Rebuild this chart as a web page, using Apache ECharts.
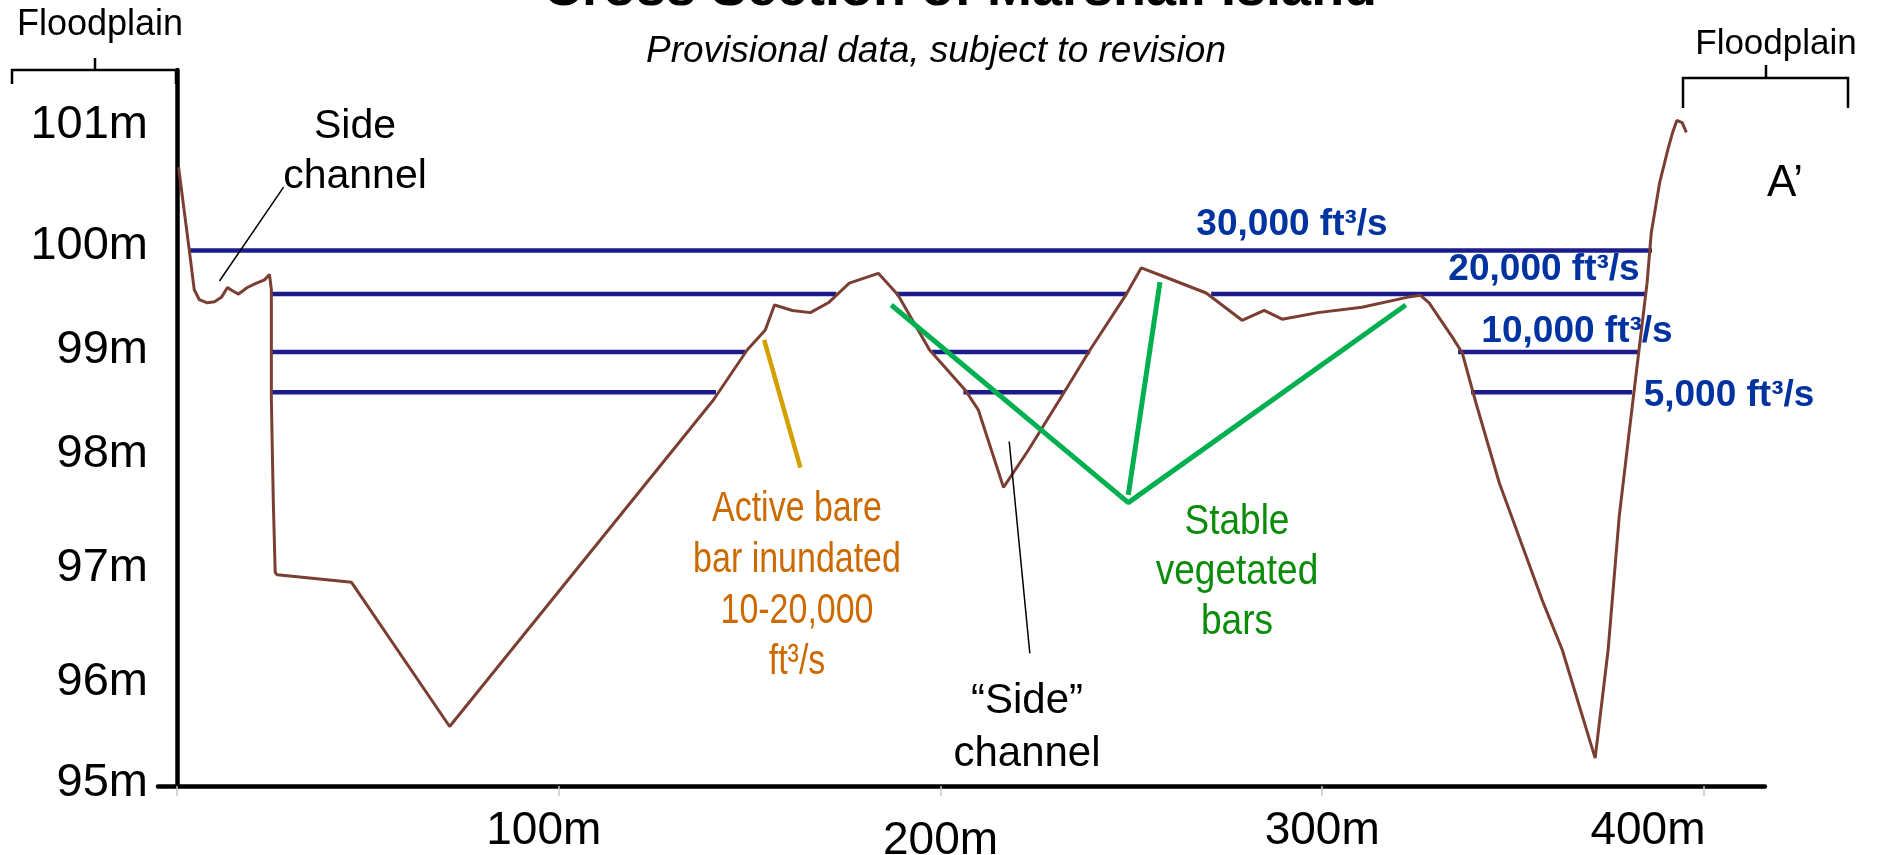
<!DOCTYPE html>
<html>
<head>
<meta charset="utf-8">
<script src="https://cdn.jsdelivr.net/npm/echarts@6/dist/echarts.min.js"></script>
<style>
html,body{margin:0;padding:0;background:#fff;}
#chart{width:1883px;height:855px;}
</style>
</head>
<body>
<div id="chart"></div>
<script>
// ---- data ----
const xTickValues = [0, 100, 200, 300, 400];
const xLabelValues = [100, 200, 300, 400];
const yTickValues = [95, 96, 97, 98, 99, 100, 101];

// ground profile: distance (m), elevation (m)
const profileDistance = [0.4, 3.2, 4.5, 5.8, 7.9, 9.8, 11.6, 13.2, 14.5, 16.1, 18.4, 20.8, 22.9, 24.2,
  24.7, 24.7, 25.2, 25.7, 26.2, 34.7, 45.7, 71.4, 140.5, 149.4, 154.1, 156.5, 161.2, 165.9, 170.6,
  176.1, 183.7, 187.1, 188.9, 197.1, 206.5, 209.9, 216.5, 223.0, 232.2, 239.2, 248.7, 252.6, 257.8,
  269.6, 279.0, 284.8, 289.5, 298.9, 310.4, 322.2, 325.7, 328.0, 334.0, 336.7, 340.3, 346.4, 357.6,
  362.9, 371.5, 374.9, 377.8, 380.4, 383.0, 385.1, 386.2, 388.4, 390.6, 391.8, 392.9, 394.3, 395.4];
const profileElevation = [100.61, 99.85, 99.49, 99.40, 99.37, 99.38, 99.42, 99.51, 99.48, 99.45, 99.51, 99.55, 99.58, 99.63,
  99.49, 98.48, 97.56, 96.90, 96.88, 96.85, 96.81, 95.49, 98.48, 98.94, 99.12, 99.35, 99.30, 99.28, 99.37,
  99.55, 99.64, 99.51, 99.44, 98.94, 98.57, 98.39, 97.68, 98.02, 98.54, 98.94, 99.45, 99.69, 99.62,
  99.46, 99.21, 99.30, 99.22, 99.28, 99.33, 99.42, 99.44, 99.37, 99.06, 98.91, 98.45, 97.72, 96.65,
  96.19, 95.20, 96.19, 97.41, 98.18, 98.94, 99.55, 100.01, 100.47, 100.78, 100.93, 101.04, 101.02, 100.93];

// water surface for each flow: level (m) and wetted stretches (m)
const flowNames = ['30,000 ft³/s', '20,000 ft³/s', '10,000 ft³/s', '5,000 ft³/s'];
const flowLevels = [99.85, 99.45, 98.92, 98.55];
const flowStretches = [
  [[3.2, 386.4]],
  [[24.7, 172.7], [188.4, 248.7], [270.9, 384.8]],
  [[24.7, 148.8], [197.8, 239.2], [335.6, 383.0]],
  [[24.7, 141.2], [206.0, 232.2], [339.0, 381.2]]
];

// annotation pointer lines (distance, elevation)
const stableBarsLines = [[[187.1, 99.35], [249.2, 97.54], [321.9, 99.35]], [[249.2, 97.61], [257.5, 99.56]]];
const activeBarLine = [[153.8, 99.03], [163.3, 97.86]];
const sideChannelLeaders = [[[27.9, 100.43], [11.1, 99.57]], [[218.0, 98.10], [223.4, 96.16]]];

// ---- build ----
const FONT = '"Liberation Sans", Arial, Helvetica, sans-serif';
const chart = echarts.init(document.getElementById('chart'));

const profileData = profileDistance.map((d, i) => [d, profileElevation[i]]);

function stretchData(k) {
  const out = [];
  flowStretches[k].forEach(s => {
    out.push([s[0], flowLevels[k]], [s[1], flowLevels[k]], [s[1], '-']);
  });
  return out;
}
function polyData(lines) {
  const out = [];
  lines.forEach(l => { l.forEach(p => out.push(p)); out.push([l[l.length - 1][0], '-']); });
  return out;
}

const series = [];
flowLevels.forEach((lv, k) => {
  series.push({
    name: flowNames[k], type: 'line', data: stretchData(k), showSymbol: false, symbol: 'none',
    connectNulls: false, silent: true, z: 2,
    lineStyle: { color: '#1b1b8c', width: 4.5 }
  });
});
series.push({
  name: 'Ground', type: 'line', data: profileData, symbol: 'none', silent: true, z: 3,
  lineStyle: { color: '#7a3e33', width: 3 }
});
series.push({
  name: 'Stable vegetated bars', type: 'line', data: polyData(stableBarsLines), symbol: 'none', silent: true, z: 4,
  lineStyle: { color: '#00b050', width: 5 }
});
series.push({
  name: 'Active bare bar', type: 'line', data: activeBarLine, symbol: 'none', silent: true, z: 4,
  lineStyle: { color: '#d4a000', width: 4.5 }
});
series.push({
  name: 'Leaders', type: 'line', data: polyData(sideChannelLeaders), symbol: 'none', silent: true, z: 4,
  lineStyle: { color: '#000', width: 1.5 }
});

function txt(text, x, y, font, color, opts) {
  opts = opts || {};
  return {
    type: 'text', x: x, y: y, silent: true, z: 10, scaleX: opts.scaleX || 1,
    style: { text: text, font: font, fill: color || '#000', align: 'center', verticalAlign: opts.va || 'middle' }
  };
}
function mtxt(lines, x, yc, size, lh, color, opts) {
  const n = lines.length;
  return lines.map((t, i) => txt(t, x, yc + (i - (n - 1) / 2) * lh, size + 'px ' + FONT, color, opts));
}
function poly(points, w) {
  return { type: 'polyline', silent: true, z: 10, shape: { points: points }, style: { stroke: '#000', lineWidth: w || 2.5, fill: null } };
}

const graphics = [].concat(
  [txt('Cross Section of Marshall Island', 960, 17, 'bold 54px ' + FONT, '#000', { va: 'bottom' })],
  [txt('Provisional data, subject to revision', 936, 52, 'italic 37px ' + FONT, '#000')],
  [txt('Floodplain', 100, 25, '36px ' + FONT, '#000')],
  [txt('Floodplain', 1776, 44, '35px ' + FONT, '#000')],
  [poly([[12, 84], [12, 70], [176, 70], [176, 84]]), poly([[95, 58], [95, 70]])],
  [poly([[1683, 108], [1683, 78], [1848, 78], [1848, 108]]), poly([[1766, 65], [1766, 78]])],
  [txt('A’', 1785, 184, '44px ' + FONT, '#000')],
  mtxt(['Side', 'channel'], 355, 152, 41, 50, '#000'),
  mtxt(['Active bare', 'bar inundated', '10-20,000', 'ft³/s'], 797, 586, 43, 51, '#cc6a00', { scaleX: 0.79 }),
  mtxt(['Stable', 'vegetated', 'bars'], 1237, 572, 43, 50, '#0a8c0a', { scaleX: 0.86 }),
  mtxt(['“Side”', 'channel'], 1027, 728, 42, 53, '#000'),
  [txt(flowNames[0], 1292, 225, 'bold 37px ' + FONT, '#0033a0')],
  [txt(flowNames[1], 1544, 270, 'bold 37px ' + FONT, '#0033a0')],
  [txt(flowNames[2], 1577, 332, 'bold 37px ' + FONT, '#0033a0')],
  [txt(flowNames[3], 1729, 396, 'bold 37px ' + FONT, '#0033a0')]
);

const yRich = {};
const yShiftPad = { 95: 6, 96: 22, 97: 12, 98: 4, 99: 13, 100: 24, 101: 0 };
yTickValues.forEach(v => {
  yRich['y' + v] = { fontSize: 47, fontFamily: FONT, color: '#000', padding: [yShiftPad[v], 0, 0, 0] };
});

const option = {
  backgroundColor: '#fff',
  animation: false,
  grid: { left: 158, right: 118, top: 70, bottom: 69, containLabel: false, outerBoundsMode: 'none' },
  xAxis: {
    type: 'value', min: -5, max: 416,
    axisLine: { show: true, onZero: false, lineStyle: { color: '#000', width: 4.5 } },
    axisTick: { show: true, customValues: xTickValues, length: 10, lineStyle: { color: '#c8c8c8', width: 1.5 } },
    splitLine: { show: false },
    axisLabel: {
      customValues: xLabelValues, margin: 22, color: '#000', fontFamily: FONT, fontSize: 46,
      formatter: v => '{l' + v + '|' + v + 'm}',
      rich: {
        l100: { fontSize: 46, fontFamily: FONT, color: '#000', padding: [0, 30, 0, 0] },
        l200: { fontSize: 46, fontFamily: FONT, color: '#000', padding: [10, 0, 0, 0] },
        l300: { fontSize: 46, fontFamily: FONT, color: '#000' },
        l400: { fontSize: 46, fontFamily: FONT, color: '#000', padding: [0, 112, 0, 0] }
      }
    }
  },
  yAxis: {
    type: 'value', min: 94.945, max: 101.502,
    axisLine: { show: true, lineStyle: { color: '#000', width: 4.5 } },
    axisTick: { show: false },
    splitLine: { show: false },
    axisLabel: {
      customValues: yTickValues, margin: 10, color: '#000', fontFamily: FONT, fontSize: 47,
      formatter: v => '{y' + v + '|' + v + 'm}',
      rich: yRich
    }
  },
  series: series,
  graphic: graphics
};
chart.setOption(option);
</script>
</body>
</html>
